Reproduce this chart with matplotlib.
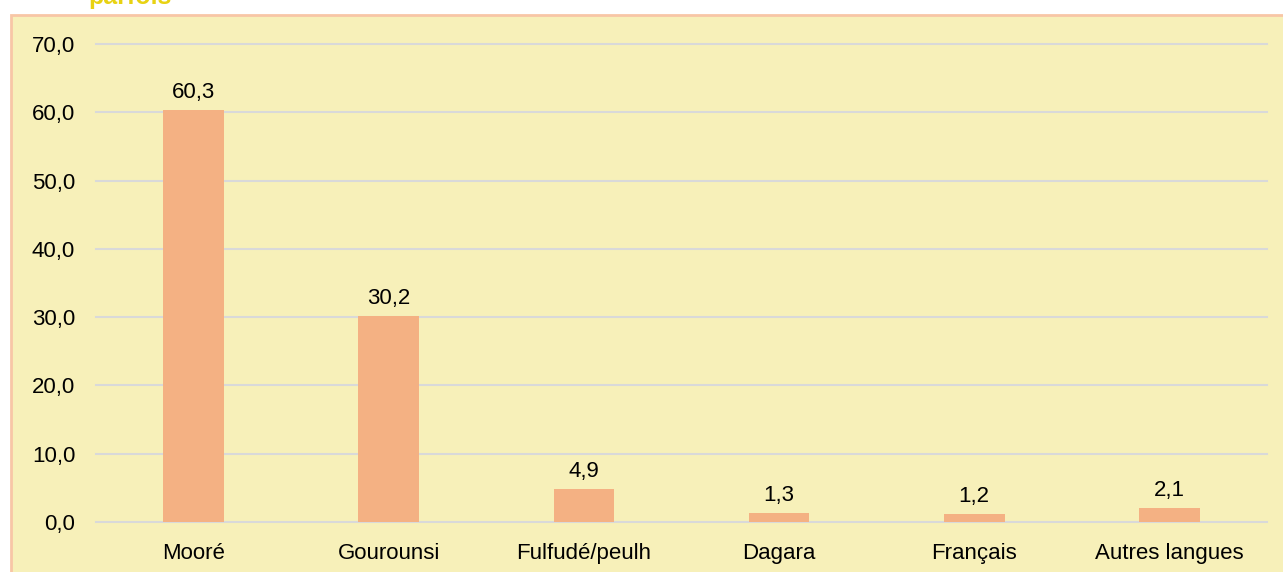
import matplotlib.pyplot as plt
import matplotlib.patches as mpatches
import numpy as np

# === Data ===
categories = ["Mooré", "Gourounsi", "Fulfudé/peulh", "Dagara", "Français", "Autres langues"]
values = [60.3, 30.2, 4.9, 1.3, 1.2, 2.1]

# === Style ===
plt.rcParams['font.family'] = ['Liberation Sans', 'DejaVu Sans']
panel_color = "#F7F0B9"
bar_color = "#F4B183"
border_color = "#F8C6A6"
grid_color = "#D9D9D9"
fs = 16

fig = plt.figure(figsize=(12.83, 5.72), dpi=100)

# background panel with peach border (top cut by page)
panel = mpatches.Rectangle((11 / 1283, -0.05), 1.1, 1 - 14.5 / 572 + 0.05,
                           transform=fig.transFigure, facecolor=panel_color,
                           edgecolor=border_color, linewidth=2, zorder=-10)
fig.patches.append(panel)

# partly visible title above the panel
fig.text(88 / 1283, 1 - 4 / 572, "parfois", color="#E8D212", fontsize=18,
         fontweight="bold", ha="left", va="baseline")

ax = fig.add_axes([96 / 1283, 1 - 522 / 572, (1267 - 96) / 1283, (522 - 44) / 572])
ax.set_facecolor("none")
ax.set_zorder(5)

x = np.arange(len(categories))
bars = ax.bar(x, values, width=0.31, color=bar_color, zorder=3)

for xi, v in zip(x, values):
    ax.annotate(f"{v:.1f}".replace(".", ","), (xi, v), xytext=(0, 5),
                textcoords="offset points", ha="center", va="bottom", fontsize=fs)

ax.set_xlim(-0.5, len(categories) - 0.5)
ax.set_ylim(0, 70)
ax.set_yticks(np.arange(0, 71, 10))
ax.set_yticklabels([f"{t:.1f}".replace(".", ",") for t in np.arange(0, 71, 10)])
ax.set_xticks(x)
ax.set_xticklabels(categories)
ax.tick_params(axis="y", length=0, pad=15, labelsize=fs)
ax.tick_params(axis="x", length=0, pad=15, labelsize=fs)

ax.grid(axis="y", color=grid_color, linewidth=1.5, zorder=0)
for gl in ax.get_ygridlines():
    gl.set_clip_on(False)
for s in ax.spines.values():
    s.set_visible(False)

fig.savefig("out.png", dpi=100)
